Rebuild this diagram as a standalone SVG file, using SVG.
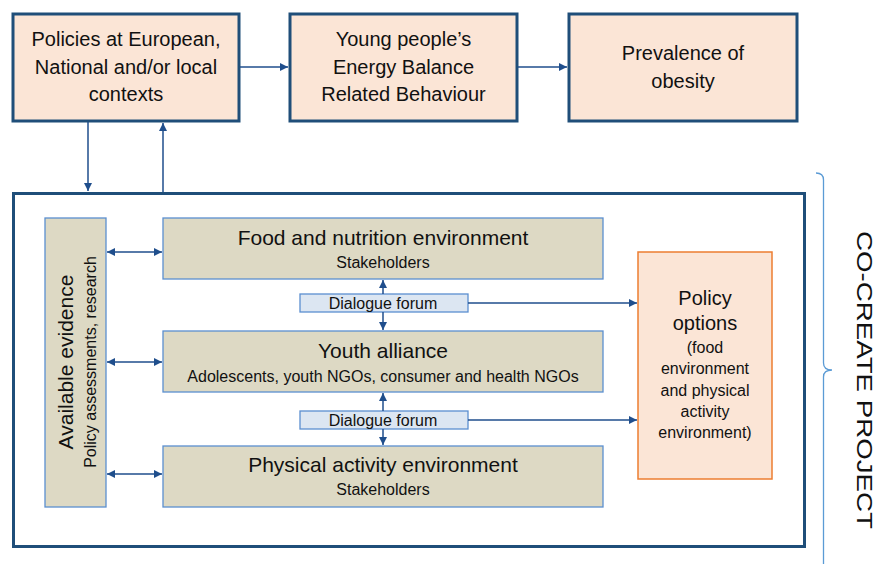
<svg xmlns="http://www.w3.org/2000/svg" width="878" height="564" viewBox="0 0 878 564">
<defs>
<style>
text{font-family:"Liberation Sans",Arial,sans-serif;fill:#111;text-anchor:middle}
.top{fill:#FBE5D6;stroke:#1F4E79;stroke-width:3}
.frame{fill:none;stroke:#1F4E79;stroke-width:3}
.env{fill:#DDD9C4;stroke:#5B8FD0;stroke-width:1.3}
.dlg{fill:#DCE6F2;stroke:#5B8FD0;stroke-width:1.3}
.pol{fill:#FBE5D6;stroke:#ED7D31;stroke-width:1.5}
.big{font-size:20px}
.t21{font-size:21px}
.sm{font-size:16px}
.con{stroke:#1F4E8C;stroke-width:1.5;fill:none}
.brace{stroke:#5B9BD5;stroke-width:1.3;fill:none}
</style>
<marker id="ah" markerUnits="userSpaceOnUse" markerWidth="9" markerHeight="9" refX="8" refY="4.5" orient="auto-start-reverse">
<path d="M0,0.5 L8,4.5 L0,8.5 z" fill="#1F4E8C"/>
</marker>
</defs>

<g id="policies-context">
<rect class="top" x="13" y="14" width="226" height="107"/>
<text class="big" x="126" y="46">Policies at European,</text>
<text class="big" x="126" y="74">National and/or local</text>
<text class="big" x="126" y="101">contexts</text>
</g>
<g id="energy-balance">
<rect class="top" x="290" y="14" width="227" height="107"/>
<text class="big" x="403.5" y="46">Young people’s</text>
<text class="big" x="403.5" y="74">Energy Balance</text>
<text class="big" x="403.5" y="101">Related Behaviour</text>
</g>
<g id="prevalence-obesity">
<rect class="top" x="569" y="14" width="228" height="107"/>
<text class="big" x="683" y="60">Prevalence of</text>
<text class="big" x="683" y="88">obesity</text>
</g>

<g id="co-create-frame">
<rect class="frame" x="13.5" y="193.5" width="791" height="353"/>
</g>

<g id="available-evidence">
<rect class="env" x="45" y="218" width="61" height="289"/>
<text class="t21" transform="translate(73,362) rotate(-90)">Available evidence</text>
<text class="sm" transform="translate(96,362) rotate(-90)">Policy assessments, research</text>
</g>
<g id="food-environment">
<rect class="env" x="163" y="218" width="440" height="61"/>
<text class="t21" x="383" y="245">Food and nutrition environment</text>
<text class="sm" x="383" y="268">Stakeholders</text>
</g>
<g id="youth-alliance">
<rect class="env" x="163" y="331" width="440" height="61"/>
<text class="t21" x="383" y="358">Youth alliance</text>
<text class="sm" x="383" y="382">Adolescents, youth NGOs, consumer and health NGOs</text>
</g>
<g id="physical-environment">
<rect class="env" x="163" y="446" width="440" height="61"/>
<text class="t21" x="383" y="472">Physical activity environment</text>
<text class="sm" x="383" y="495">Stakeholders</text>
</g>
<g id="dialogue-forum-1">
<rect class="dlg" x="300" y="294" width="168" height="18"/>
<text class="sm" x="383" y="308.5">Dialogue forum</text>
</g>
<g id="dialogue-forum-2">
<rect class="dlg" x="300" y="411" width="168" height="18"/>
<text class="sm" x="383" y="425.5">Dialogue forum</text>
</g>
<g id="policy-options">
<rect class="pol" x="638" y="252" width="134" height="227"/>
<text class="big" x="705" y="305">Policy</text>
<text class="big" x="705" y="330">options</text>
<text class="sm" x="705" y="353">(food</text>
<text class="sm" x="705" y="374">environment</text>
<text class="sm" x="705" y="396">and physical</text>
<text class="sm" x="705" y="417">activity</text>
<text class="sm" x="705" y="438">environment)</text>
</g>

<g id="co-create-label">
<path class="brace" d="M816,173 Q823.5,173 823.5,180 L823.5,363 Q823.5,370 832,370 Q823.5,370 823.5,377 L823.5,570"/>
<text transform="translate(857,380) rotate(90)" style="font-size:22px;font-weight:300" textLength="298" lengthAdjust="spacingAndGlyphs">CO-CREATE PROJECT</text>
</g>

<g id="connectors">
<line class="con" x1="240" y1="67" x2="288" y2="67" marker-end="url(#ah)"/>
<line class="con" x1="518" y1="67" x2="567" y2="67" marker-end="url(#ah)"/>
<line class="con" x1="88" y1="122" x2="88" y2="191" marker-end="url(#ah)"/>
<line class="con" x1="163" y1="192" x2="163" y2="123" marker-end="url(#ah)"/>
<line class="con" x1="107" y1="252" x2="162" y2="252" marker-start="url(#ah)" marker-end="url(#ah)"/>
<line class="con" x1="107" y1="362" x2="162" y2="362" marker-start="url(#ah)" marker-end="url(#ah)"/>
<line class="con" x1="107" y1="474" x2="162" y2="474" marker-start="url(#ah)" marker-end="url(#ah)"/>
<line class="con" x1="383" y1="294" x2="383" y2="280" marker-end="url(#ah)"/>
<line class="con" x1="383" y1="312" x2="383" y2="330" marker-end="url(#ah)"/>
<line class="con" x1="383" y1="411" x2="383" y2="393" marker-end="url(#ah)"/>
<line class="con" x1="383" y1="429" x2="383" y2="445" marker-end="url(#ah)"/>
<line class="con" x1="468" y1="303" x2="637" y2="303" marker-end="url(#ah)"/>
<line class="con" x1="468" y1="420" x2="637" y2="420" marker-end="url(#ah)"/>
</g>
</svg>
